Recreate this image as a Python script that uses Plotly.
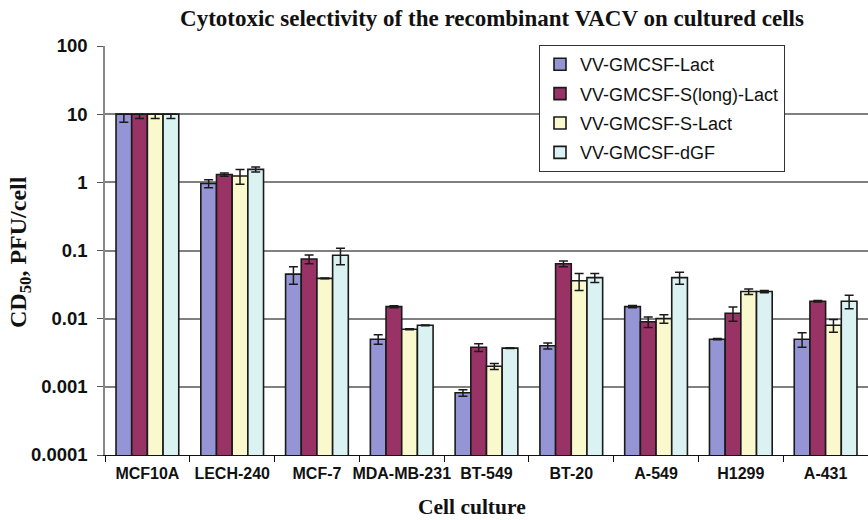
import plotly.graph_objects as go

cells = ["MCF10A", "LECH-240", "MCF-7", "MDA-MB-231", "BT-549",
         "BT-20", "A-549", "H1299", "A-431"]

series_names = ["VV-GMCSF-Lact", "VV-GMCSF-S(long)-Lact",
                "VV-GMCSF-S-Lact", "VV-GMCSF-dGF"]

lact = [10, 0.96, 0.045, 0.005, 0.00082, 0.004, 0.015, 0.005, 0.005]
slong_lact = [10, 1.3, 0.075, 0.015, 0.0038, 0.064, 0.009, 0.012, 0.018]
s_lact = [10, 1.24, 0.039, 0.007, 0.002, 0.036, 0.01, 0.025, 0.008]
dgf = [10, 1.55, 0.085, 0.008, 0.0037, 0.04, 0.04, 0.025, 0.018]

lact_err = [2.4, 0.13, 0.013, 0.0008, 0.00009, 0.0004, 0.0006, 0.0001, 0.0012]
slong_lact_err = [1.35, 0.07, 0.011, 0.0005, 0.0005, 0.006, 0.0016, 0.0028, 0.0004]
s_lact_err = [1.35, 0.3, 0.0005, 0.0001, 0.0002, 0.01, 0.0014, 0.0023, 0.0017]
dgf_err = [1.35, 0.13, 0.023, 0.0001, 0.00005, 0.006, 0.008, 0.0009, 0.004]

# MCF10A sits at the top of the scale, so only its lower error is shown
upper_clip = [True] + [False] * 8

colors = ["#9594D4", "#993366", "#FAF8CD", "#DAF3F2"]

values = [lact, slong_lact, s_lact, dgf]
errors = [lact_err, slong_lact_err, s_lact_err, dgf_err]

W, H = 868, 520
ML, MR, MT, MB = 105, 0, 46, 65
PW, PH = W - ML - MR, H - MT - MB


def px_x(x):
    return (x - ML) / PW


def px_y(y):
    return 1 - (y - MT) / PH


fig = go.Figure()
for name, vals, errs, col in zip(series_names, values, errors, colors):
    plus = [0 if clip else e for e, clip in zip(errs, upper_clip)]
    fig.add_trace(go.Bar(
        x=cells, y=vals, name=name, legendgroup=name,
        marker=dict(color=col, line=dict(color="#1a1a1a", width=1.6)),
        error_y=dict(type="data", symmetric=False, array=plus, arrayminus=errs,
                     color="#1a1a1a", thickness=1.5, width=4.5),
    ))

serif = "Liberation Serif"
sans = "Liberation Sans"

fig.update_layout(
    width=W, height=H,
    margin=dict(l=ML, r=MR, t=MT, b=MB),
    plot_bgcolor="white", paper_bgcolor="white",
    barmode="group", bargap=0.26, bargroupgap=0,
    title=dict(text="<b>Cytotoxic selectivity of the recombinant VACV on cultured cells</b>",
               font=dict(family=serif, size=23, color="#111"),
               x=492 / W, xref="container", xanchor="center",
               y=1 - 18 / H, yref="container", yanchor="middle"),
    legend=dict(x=px_x(539), y=px_y(45), xanchor="left", yanchor="top",
                bgcolor="white", bordercolor="#333", borderwidth=1,
                font=dict(family=sans, size=18, color="#111"),
                tracegroupgap=3, itemwidth=30),
    font=dict(family=sans, color="#111"),
    annotations=[
        dict(text="<b>Cell culture</b>", xref="paper", yref="paper",
             x=px_x(472), y=px_y(507), xanchor="center", yanchor="middle",
             showarrow=False, font=dict(family=serif, size=21.5, color="#111")),
        dict(text="<b>CD<sub>50</sub>, PFU/cell</b>", xref="paper", yref="paper",
             x=px_x(20), y=px_y(252), xanchor="center", yanchor="middle",
             textangle=-90, showarrow=False,
             font=dict(family=serif, size=24, color="#111")),
    ],
)

fig.update_xaxes(
    type="category", tickson="boundaries", ticks="outside", ticklen=6,
    tickcolor="#111", showline=True, linecolor="#111", linewidth=1.2,
    tickangle=0, automargin=False, ticklabelstandoff=4,
    tickfont=dict(family=sans, size=16, color="#111", weight="bold"),
    showgrid=False,
)
fig.update_yaxes(
    type="log", range=[-4, 2], automargin=False,
    tickvals=[0.0001, 0.001, 0.01, 0.1, 1, 10, 100],
    ticktext=["0.0001", "0.001", "0.01", "0.1", "1", "10", "100"],
    ticks="outside", ticklen=6, tickcolor="#555", ticklabelstandoff=6,
    showline=True, linecolor="#888", linewidth=1.5,
    showgrid=True, gridcolor="#808080", gridwidth=1.5,
    tickfont=dict(family=sans, size=18.5, color="#111", weight="bold"),
)

fig.write_html("out.html")
